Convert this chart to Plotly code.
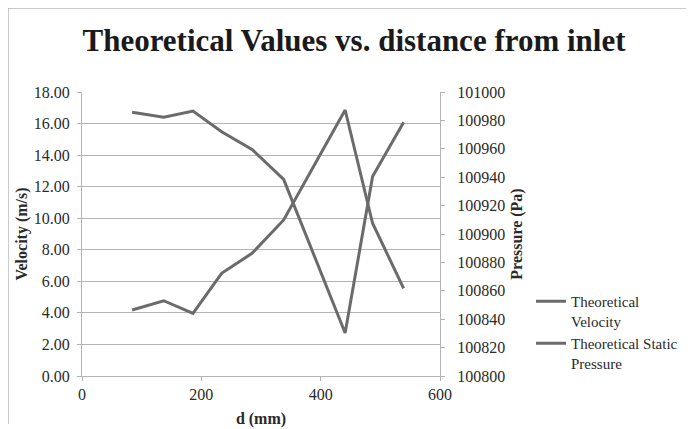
import plotly.graph_objects as go

# Data
d_mm = [84, 137, 186, 234, 285, 338, 441, 487, 539]
velocity = [4.18, 4.77, 3.97, 6.51, 7.78, 9.89, 16.86, 9.68, 5.56]
pressure = [100985.7, 100982.2, 100986.6, 100972.0, 100959.6, 100938.5, 100830.3, 100940.4, 100978.7]

x_ticks = [0, 200, 400, 600]
v_ticks = [0, 2, 4, 6, 8, 10, 12, 14, 16, 18]
p_ticks = [100800, 100820, 100840, 100860, 100880, 100900, 100920, 100940, 100960, 100980, 101000]

OFF = 8  # page body margin
W, H = 694 - OFF, 429 - OFF
L, R, T, B = 82 - OFF, 440 - OFF, 92 - OFF, 376 - OFF

FONT = "Liberation Serif"
LINE = "#6b6b6b"
GRID = "#b4b4b4"
TXT = "#2a2a2a"
FS = 16

fig = go.Figure()
fig.add_trace(go.Scatter(x=d_mm, y=velocity, mode="lines", name="Theoretical<br>Velocity",
                         line=dict(color=LINE, width=3), yaxis="y"))
fig.add_trace(go.Scatter(x=d_mm, y=pressure, mode="lines", name="Theoretical Static<br>Pressure",
                         line=dict(color=LINE, width=3), yaxis="y2"))

def px_x(px):
    return (px - OFF - L) / (R - L)

def px_y(py):
    return (B - (py - OFF)) / (B - T)

fig.update_layout(
    width=W, height=H,
    margin=dict(l=L, r=W - R, t=T, b=H - B, autoexpand=False),
    paper_bgcolor="white", plot_bgcolor="white",
    font=dict(family=FONT, color=TXT, size=FS),
    title=dict(text="<b>Theoretical Values vs. distance from inlet</b>",
               font=dict(family=FONT, size=31, color="#1a1a1a"),
               x=(354 - OFF) / W, xref="container", xanchor="center",
               y=1 - (40 - OFF) / H, yref="container", yanchor="middle"),
    xaxis=dict(range=[0, 600], tickvals=x_ticks, ticktext=[str(v) for v in x_ticks],
               showgrid=False, zeroline=False, showline=True, linecolor=GRID, linewidth=1,
               ticks="outside", ticklen=4, tickcolor=GRID,
               tickfont=dict(family=FONT, size=FS, color=TXT),
               title=dict(text="<b>d (mm)</b>", font=dict(family=FONT, size=FS, color=TXT), standoff=10)),
    yaxis=dict(range=[0, 18], tickvals=v_ticks, ticktext=[f"{v:.2f}" for v in v_ticks],
               showgrid=True, gridcolor=GRID, gridwidth=1, zeroline=False,
               showline=True, linecolor=GRID, linewidth=1,
               ticks="outside", ticklen=4, tickcolor=GRID, ticklabelstandoff=4,
               tickfont=dict(family=FONT, size=FS, color=TXT),
               title=dict(text="<b>Velocity (m/s)</b>", font=dict(family=FONT, size=FS, color=TXT), standoff=2)),
    yaxis2=dict(range=[100800, 101000], tickvals=p_ticks, ticktext=[str(v) for v in p_ticks],
                overlaying="y", side="right", showgrid=False, zeroline=False,
                showline=True, linecolor=GRID, linewidth=1,
                ticks="outside", ticklen=4, tickcolor=GRID, ticklabelstandoff=9,
                tickfont=dict(family=FONT, size=FS, color=TXT),
                title=dict(text="<b>Pressure (Pa)</b>", font=dict(family=FONT, size=FS, color=TXT), standoff=6)),
    legend=dict(x=px_x(531), xanchor="left", y=px_y(285), yanchor="top",
                font=dict(family=FONT, size=15, color=TXT), valign="top",
                itemwidth=30, tracegroupgap=6, bgcolor="rgba(0,0,0,0)"),
    showlegend=True,
)

# outer chart border (top and left edges visible in the scan)
fig.add_shape(type="line", xref="paper", yref="paper",
              x0=px_x(8), x1=px_x(694), y0=px_y(8), y1=px_y(8),
              line=dict(color="#9a9a9a", width=1))
fig.add_shape(type="line", xref="paper", yref="paper",
              x0=px_x(8), x1=px_x(8), y0=px_y(8), y1=px_y(424),
              line=dict(color="#9a9a9a", width=1))

fig.write_html("out.html")
